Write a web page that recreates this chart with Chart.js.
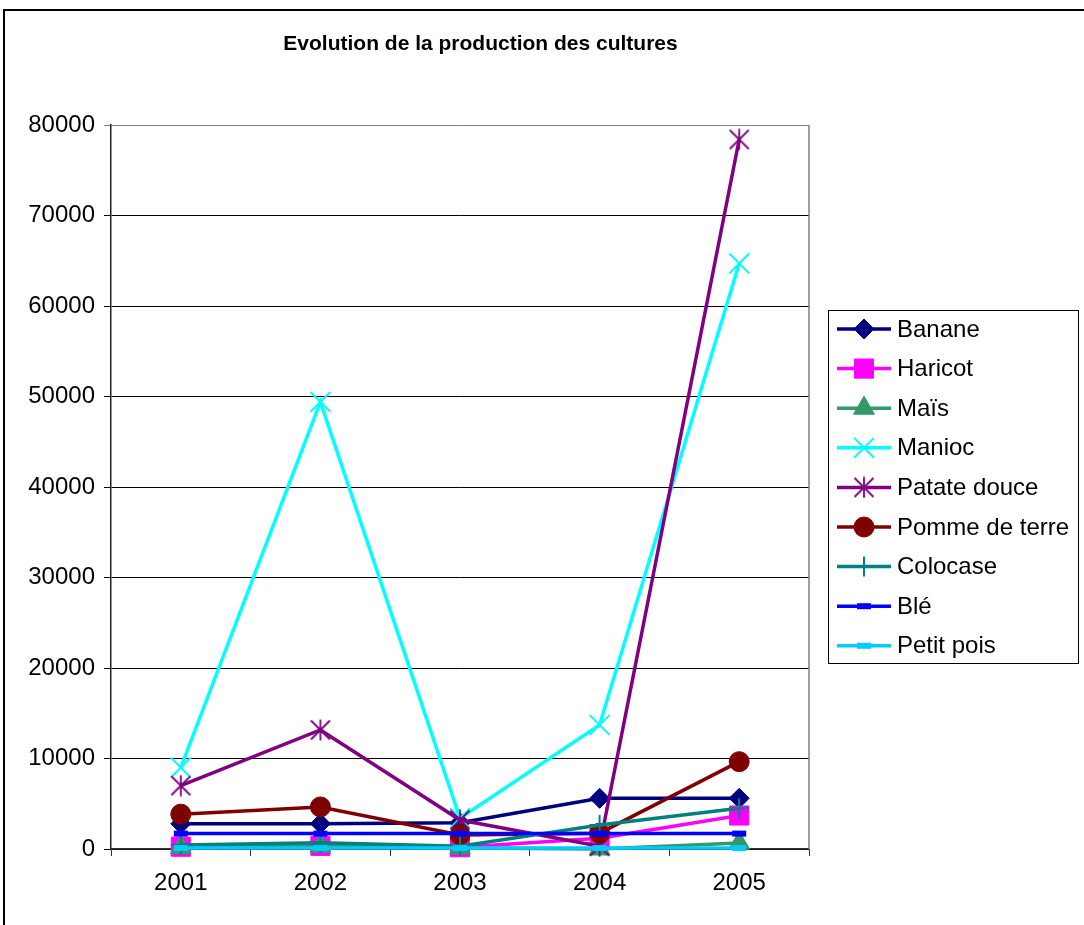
<!DOCTYPE html>
<html>
<head>
<meta charset="utf-8">
<style>
  html, body { margin: 0; padding: 0; background: #ffffff; }
  canvas { display: block; }
</style>
<script src="https://cdn.jsdelivr.net/npm/chart.js@4.4.1/dist/chart.umd.min.js"></script>
</head>
<body>
<canvas id="chart" width="1084" height="925"></canvas>
<script>
// Production per crop, 2001-2005
const years = ['2001', '2002', '2003', '2004', '2005'];
const banane       = [2800, 2800, 2900, 5600, 5600];
const haricot      = [250, 350, 200, 1200, 3700];
const mais         = [150, 300, 100, 0, 650];
const manioc       = [9000, 49400, 3400, 13700, 64700];
const patateDouce  = [7000, 13150, 3200, 300, 78400];
const pommeDeTerre = [3850, 4650, 1550, 1750, 9650];
const colocase     = [450, 700, 300, 2650, 4500];
const ble          = [1700, 1700, 1700, 1700, 1700];
const petitPois    = [100, 100, 100, 100, 100];
const yTicks = [0, 10000, 20000, 30000, 40000, 50000, 60000, 70000, 80000];
const chartTitle = 'Evolution de la production des cultures';

const FONT = '"Liberation Sans", Arial, sans-serif';

// Asterisk marker: an X crossed by a vertical stroke
function starMarker(color) {
  const c = document.createElement('canvas');
  c.width = 22; c.height = 22;
  const g = c.getContext('2d');
  g.strokeStyle = color;
  g.lineWidth = 1.8;
  g.beginPath();
  g.moveTo(1.5, 1.5); g.lineTo(20.5, 20.5);
  g.moveTo(20.5, 1.5); g.lineTo(1.5, 20.5);
  g.moveTo(11, 0.5); g.lineTo(11, 21.5);
  g.stroke();
  return c;
}

function series(label, data, color, style, radius, pointBorderWidth) {
  return {
    label, data,
    borderColor: color,
    backgroundColor: color,
    pointBackgroundColor: color,
    pointBorderColor: color,
    borderWidth: 3.5,
    pointStyle: style,
    pointRadius: radius,
    pointHoverRadius: radius,
    pointBorderWidth: pointBorderWidth,
    tension: 0,
    fill: false,
    clip: false
  };
}

const datasets = [
  series('Banane', banane, '#000080', 'rectRot', 10, 1),
  series('Haricot', haricot, '#FF00FF', 'rect', 13.5, 1),
  series('Maïs', mais, '#339966', 'triangle', 12, 1),
  series('Manioc', manioc, '#00FFFF', 'crossRot', 14, 2),
  series('Patate douce', patateDouce, '#800080', starMarker('#800080'), 11, 1),
  series('Pomme de terre', pommeDeTerre, '#800000', 'circle', 10, 1),
  series('Colocase', colocase, '#008080', 'cross', 10, 2),
  series('Blé', ble, '#0000FF', 'line', 7, 6),
  series('Petit pois', petitPois, '#00CCFF', 'line', 7, 6)
];
// later series are painted over earlier ones
datasets.forEach((d, i) => { d.order = datasets.length - i; });

const decorations = {
  id: 'decorations',
  beforeDatasetsDraw(chart) {
    const { ctx, chartArea } = chart;
    ctx.save();
    ctx.strokeStyle = '#808080';
    ctx.lineWidth = 1.5;
    ctx.beginPath();
    ctx.moveTo(chartArea.right, chartArea.top);
    ctx.lineTo(chartArea.right, chartArea.bottom);
    ctx.stroke();
    ctx.restore();
  },
  afterDraw(chart) {
    const { ctx } = chart;
    ctx.save();

    // outer frame
    ctx.strokeStyle = '#000000';
    ctx.lineWidth = 2;
    ctx.strokeRect(4, 10, 1200, 1200);

    // title
    ctx.fillStyle = '#000000';
    ctx.font = 'bold 21px ' + FONT;
    ctx.textAlign = 'center';
    ctx.textBaseline = 'alphabetic';
    ctx.fillText(chartTitle, 480.5, 50);

    // legend box
    const boxL = 828, boxT = 310, boxR = 1078, boxB = 663;
    ctx.lineWidth = 1;
    ctx.strokeStyle = '#000000';
    ctx.strokeRect(boxL + 0.5, boxT + 0.5, boxR - boxL, boxB - boxT);

    const drawPoint = Chart.helpers && Chart.helpers.drawPoint;
    ctx.font = '24px ' + FONT;
    ctx.textAlign = 'left';
    ctx.textBaseline = 'middle';
    chart.data.datasets.forEach((ds, i) => {
      const y = 329 + i * 39.6;
      ctx.strokeStyle = ds.borderColor;
      ctx.lineWidth = ds.borderWidth;
      ctx.beginPath();
      ctx.moveTo(837, y);
      ctx.lineTo(891, y);
      ctx.stroke();
      if (drawPoint) {
        ctx.fillStyle = ds.pointBackgroundColor;
        ctx.strokeStyle = ds.pointBorderColor;
        ctx.lineWidth = ds.pointBorderWidth;
        drawPoint(ctx, {
          pointStyle: ds.pointStyle,
          radius: ds.pointRadius,
          rotation: 0,
          borderWidth: ds.pointBorderWidth
        }, 864, y);
      }
      ctx.fillStyle = '#000000';
      ctx.fillText(ds.label, 897, y + 1);
    });
    ctx.restore();
  }
};

new Chart(document.getElementById('chart'), {
  type: 'line',
  data: { labels: years, datasets },
  options: {
    responsive: false,
    animation: false,
    events: [],
    devicePixelRatio: 1,
    layout: { padding: { left: 0, top: 125, right: 275, bottom: 0 } },
    plugins: {
      legend: { display: false },
      title: { display: false },
      tooltip: { enabled: false }
    },
    scales: {
      x: {
        offset: true,
        grid: {
          offset: true,
          drawOnChartArea: false,
          drawTicks: true,
          tickLength: 7,
          color: '#333333',
          lineWidth: 1
        },
        border: { color: '#333333', width: 1.5 },
        ticks: {
          color: '#000000',
          font: { family: FONT, size: 24 },
          padding: 13,
          maxRotation: 0,
          autoSkip: false
        },
        afterFit(scale) { scale.height = 76; }
      },
      y: {
        min: 0,
        max: 80000,
        afterBuildTicks(scale) { scale.ticks = yTicks.map(v => ({ value: v })); },
        grid: {
          color: (ctx) => (ctx.tick && ctx.tick.value === 80000) ? '#808080' : '#000000',
          lineWidth: 1,
          tickLength: 7
        },
        border: { color: '#222222', width: 1.5 },
        ticks: {
          color: '#000000',
          font: { family: FONT, size: 24 },
          padding: 9,
          callback: (v) => String(v)
        },
        afterFit(scale) { scale.width = 111; }
      }
    }
  },
  plugins: [decorations]
});
</script>
</body>
</html>
